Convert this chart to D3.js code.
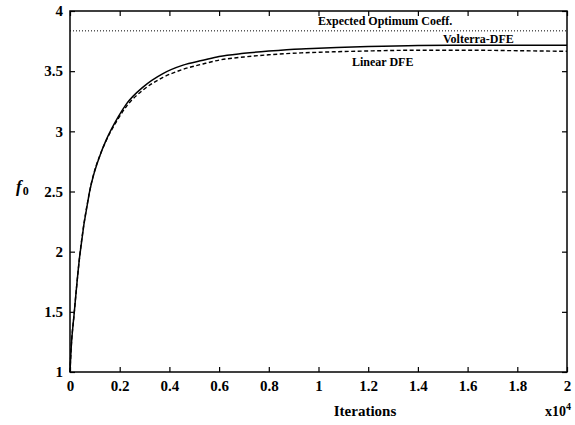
<!DOCTYPE html>
<html><head><meta charset="utf-8">
<script src="https://cdn.jsdelivr.net/npm/d3@7"></script>
<style>body{margin:0;background:#fff}svg{display:block}svg text{font-family:"Liberation Serif","DejaVu Serif","Times New Roman",Times,serif;}</style>
</head><body>
<script>
const iterations = [0, 0.004, 0.017, 0.037, 0.078, 0.128, 0.145, 0.194, 0.228, 0.295, 0.374, 0.455, 0.535, 0.6, 0.7, 0.8, 0.93, 1.0, 1.2, 1.4, 1.6, 1.8, 2.0];
const volterra = [1.0, 1.175, 1.49, 1.925, 2.49, 2.84, 2.925, 3.12, 3.23, 3.37, 3.48, 3.55, 3.59, 3.622, 3.648, 3.667, 3.685, 3.69, 3.705, 3.714, 3.716, 3.716, 3.716];
const linear = [1.0, 1.175, 1.49, 1.925, 2.49, 2.84, 2.92, 3.105, 3.21, 3.345, 3.448, 3.515, 3.56, 3.592, 3.618, 3.636, 3.652, 3.657, 3.668, 3.674, 3.674, 3.67, 3.665];
const optimum = 3.835;
const xTicks = [0, 0.2, 0.4, 0.6, 0.8, 1, 1.2, 1.4, 1.6, 1.8, 2];
const xTickLabels = ["0", "0.2", "0.4", "0.6", "0.8", "1", "1.2", "1.4", "1.6", "1.8", "2"];
const yTicks = [1, 1.5, 2, 2.5, 3, 3.5, 4];
const yTickLabels = ["1", "1.5", "2", "2.5", "3", "3.5", "4"];

const W = 575, H = 425;
const svg = d3.select("body").append("svg").attr("width", W).attr("height", H);
const x = d3.scaleLinear().domain([0, 2]).range([70, 567]);
const y = d3.scaleLinear().domain([1, 4]).range([372, 11]);

function styleAxis(g, labels) {
  g.select(".domain").remove();
  g.selectAll(".tick line").attr("stroke", "#000").attr("stroke-width", 1.2);
  g.attr("font-family", null).attr("font-size", null);
  g.selectAll("text").attr("font-weight", "bold")
    .style("font-size", "15px").attr("fill", "#000");
  if (!labels) g.selectAll("text").remove();
}
svg.append("g").attr("transform", `translate(0,${y(1)})`)
  .call(d3.axisBottom(x).tickValues(xTicks).tickFormat((d, i) => xTickLabels[i]).tickSize(-5).tickPadding(8))
  .call(g => styleAxis(g, true));
svg.append("g").attr("transform", `translate(0,${y(4)})`)
  .call(d3.axisTop(x).tickValues(xTicks).tickSize(-5))
  .call(g => styleAxis(g, false));
svg.append("g").attr("transform", `translate(${x(0)},0)`)
  .call(d3.axisLeft(y).tickValues(yTicks).tickFormat((d, i) => yTickLabels[i]).tickSize(-5).tickPadding(7))
  .call(g => styleAxis(g, true));
svg.append("g").attr("transform", `translate(${x(2)},0)`)
  .call(d3.axisRight(y).tickValues(yTicks).tickSize(-5))
  .call(g => styleAxis(g, false));

svg.append("rect").attr("x", x(0)).attr("y", y(4)).attr("width", x(2) - x(0)).attr("height", y(1) - y(4))
  .attr("fill", "none").attr("stroke", "#000").attr("stroke-width", 1.5);

svg.append("line").attr("x1", x(0)).attr("x2", x(2)).attr("y1", y(optimum)).attr("y2", y(optimum))
  .attr("stroke", "#000").attr("stroke-width", 1).attr("stroke-dasharray", "1,2");

const line = (vals) => d3.line().x((d, i) => x(iterations[i])).y(d => y(d)).curve(d3.curveMonotoneX)(vals);
svg.append("path").attr("d", line(linear)).attr("fill", "none").attr("stroke", "#000")
  .attr("stroke-width", 1.4).attr("stroke-dasharray", "4,2.5");
svg.append("path").attr("d", line(volterra)).attr("fill", "none").attr("stroke", "#000")
  .attr("stroke-width", 1.5);

const ann = (t, xx, yy) => svg.append("text").attr("x", xx).attr("y", yy).text(t)
  .attr("font-weight", "bold").style("font-size", "12px").attr("fill", "#000");
ann("Expected Optimum Coeff.", 318, 25);
ann("Volterra-DFE", 443, 43);
ann("Linear DFE", 352, 66);

svg.append("text").attr("x", 365).attr("y", 416).attr("text-anchor", "middle")
  .attr("font-weight", "bold").style("font-size", "15px").text("Iterations");
const sx = svg.append("text").attr("x", 545).attr("y", 416)
  .attr("font-weight", "bold").style("font-size", "14px");
sx.append("tspan").text("x10");
sx.append("tspan").attr("dy", -6).style("font-size", "10px").text("4");

const fl = svg.append("text").attr("x", 16).attr("y", 192)
  .attr("font-weight", "bold").style("font-size", "17px");
fl.append("tspan").attr("font-style", "italic").text("f");
fl.append("tspan").attr("dy", 3).attr("dx", 1).style("font-size", "12px").text("0");
</script>
</body></html>
